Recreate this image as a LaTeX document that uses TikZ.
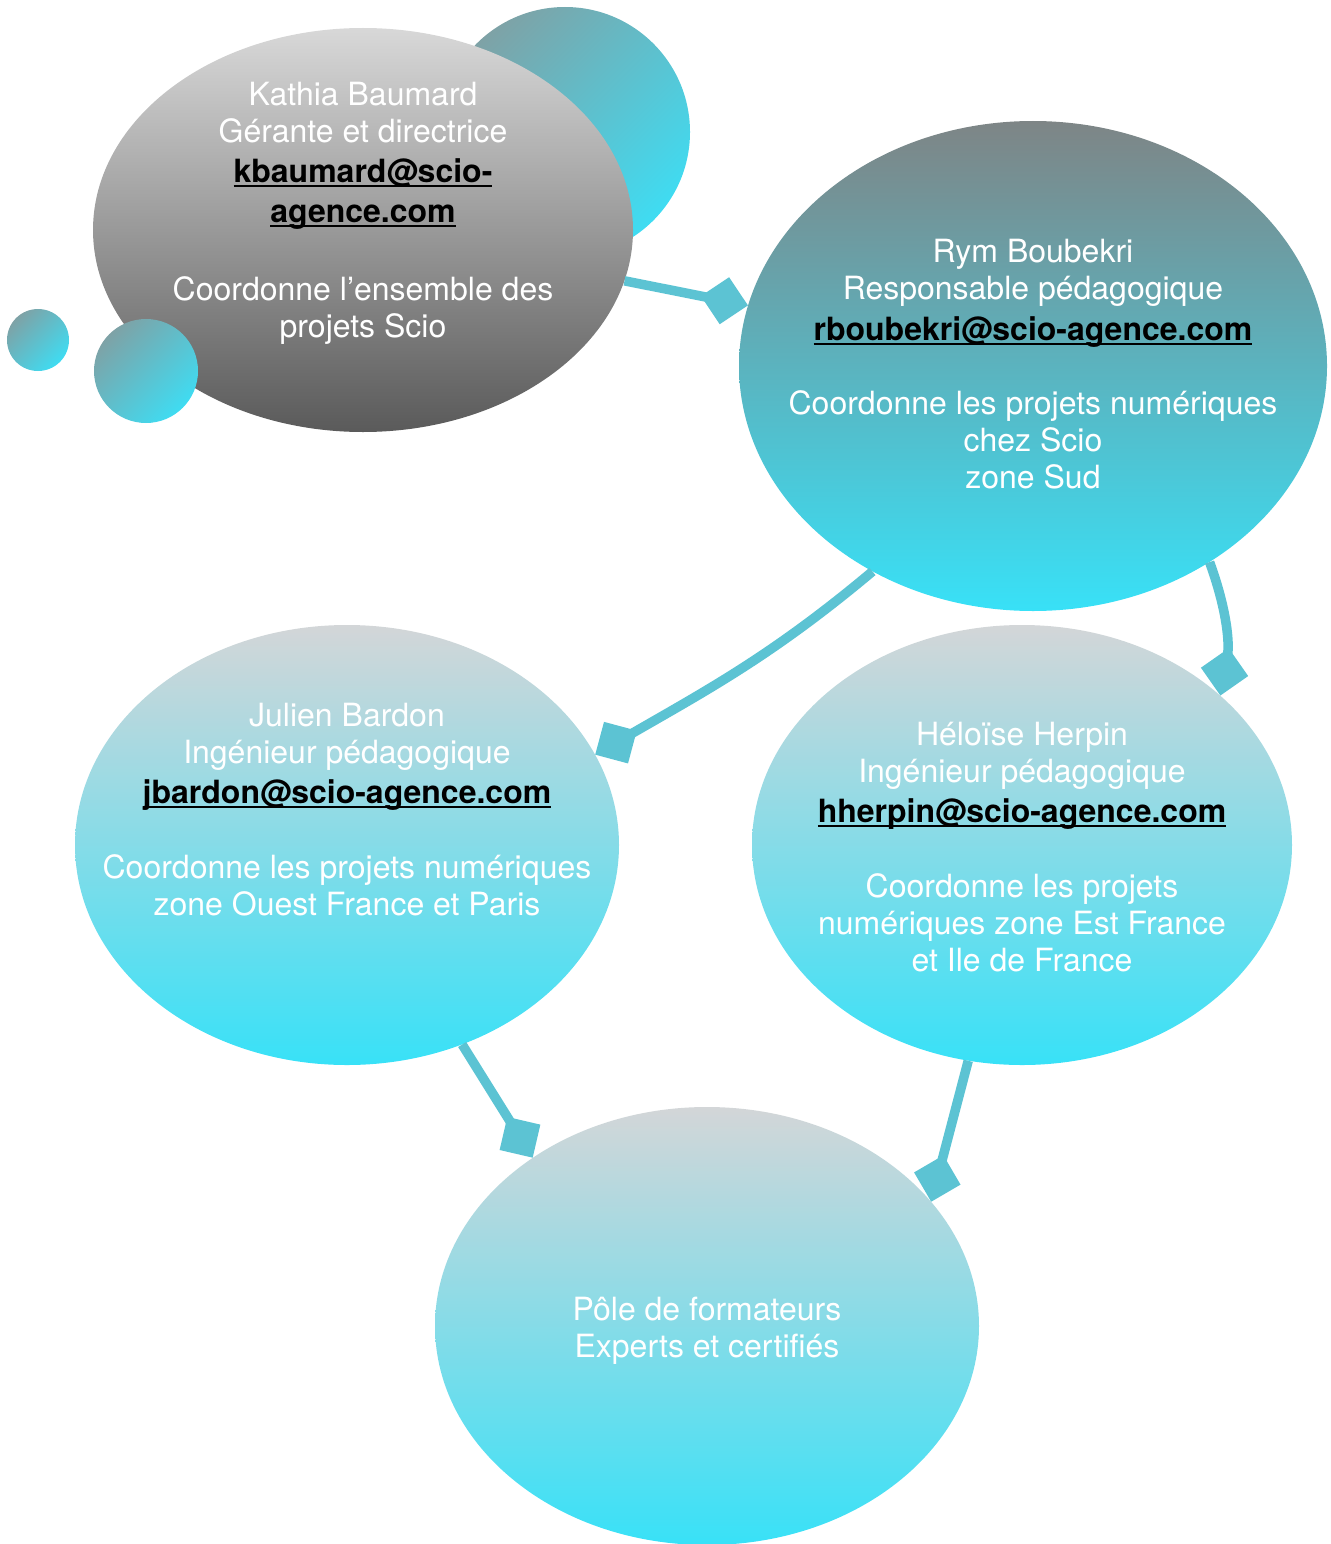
\documentclass[tikz,border=0pt]{standalone}
\usepackage{fontspec}
\setmainfont{TeX Gyre Heros}
\usetikzlibrary{shapes.geometric,arrows.meta}
\definecolor{link}{HTML}{5CC3D3}
\definecolor{kgtop}{HTML}{D8D8D8}
\definecolor{kgbot}{HTML}{5A5A5A}
\definecolor{tealtl}{HTML}{7EA2A6}
\definecolor{cyanbr}{HTML}{3FDCF2}
\definecolor{rymtop}{HTML}{7E8586}
\definecolor{cyanbot}{HTML}{38E1F7}
\definecolor{ltop}{HTML}{D3D6D8}
\newsavebox\mailbox
\newcommand\mail[1]{{\color{black}\bfseries\sbox\mailbox{#1}\rlap{\rule[-5pt]{\wd\mailbox}{2.2pt}}\usebox\mailbox}}
\tikzset{
  bubble/.style={ellipse, inner sep=0pt, draw=none},
  dot/.style={circle, inner sep=0pt, draw=none, top color=tealtl, bottom color=cyanbr, shading angle=45},
  txt/.style={align=center, text=white, font=\fontsize{32}{37}\selectfont, inner sep=0pt, anchor=base},
  conn/.style={draw=link, line width=9.5pt, -{Diamond[length=48pt,width=48pt]}},
}
\begin{document}
\begin{tikzpicture}[x=1pt,y=-1pt]
\useasboundingbox (0,0) rectangle (1330,1544);
% decorative circles
\node[dot, minimum size=250pt] (back) at (565,132) {};
\node[bubble, minimum width=540pt, minimum height=404pt, top color=kgtop, bottom color=kgbot] (kathia) at (363,230) {};
\node[dot, minimum size=62pt] (small) at (38,340) {};
\node[dot, minimum size=104pt] (mid) at (146,371) {};
% main bubbles
\node[bubble, minimum width=588pt, minimum height=490pt, top color=rymtop, bottom color=cyanbot] (rym) at (1033,366) {};
\node[bubble, minimum width=544pt, minimum height=440pt, top color=ltop, bottom color=cyanbot] (julien) at (347,845) {};
\node[bubble, minimum width=540pt, minimum height=440pt, top color=ltop, bottom color=cyanbot] (heloise) at (1022,845) {};
\node[bubble, minimum width=544pt, minimum height=438pt, top color=ltop, bottom color=cyanbot] (pole) at (707,1326) {};
% texts (anchor base = baseline of last line)
\node[txt] (ktext) at (363,337) {Kathia Baumard\\ Gérante et directrice\\[3pt] \mail{kbaumard@scio-}\\[3pt] \mail{agence.com}\\[41pt] Coordonne l’ensemble des\\ projets Scio};
\node[txt] (rtext) at (1033,488) {Rym Boubekri\\ Responsable pédagogique\\[4pt] \mail{rboubekri@scio-agence.com}\\[37pt] Coordonne les projets numériques\\ chez Scio\\ zone Sud};
\node[txt] (jtext) at (347,915) {Julien Bardon\\ Ingénieur pédagogique\\[3pt] \mail{jbardon@scio-agence.com}\\[38pt] Coordonne les projets numériques\\ zone Ouest France et Paris};
\node[txt] (htext) at (1022,971) {Héloïse Herpin\\ Ingénieur pédagogique\\[3pt] \mail{hherpin@scio-agence.com}\\[38pt] Coordonne les projets\\ numériques zone Est France\\ et Ile de France};
\node[txt] (ptext) at (707,1357) {Pôle de formateurs\\ Experts et certifiés};
% connectors
\draw[conn] (kathia.-11) -- (rym.168);
\draw[conn] (rym.232) to[out=220,in=30] (julien.20);
\draw[conn] (rym.-48) to[out=-70,in=80] (heloise.37);
\draw[conn] (julien.-60) -- (pole.136);
\draw[conn] (heloise.256) -- (pole.29);
\end{tikzpicture}
\end{document}
